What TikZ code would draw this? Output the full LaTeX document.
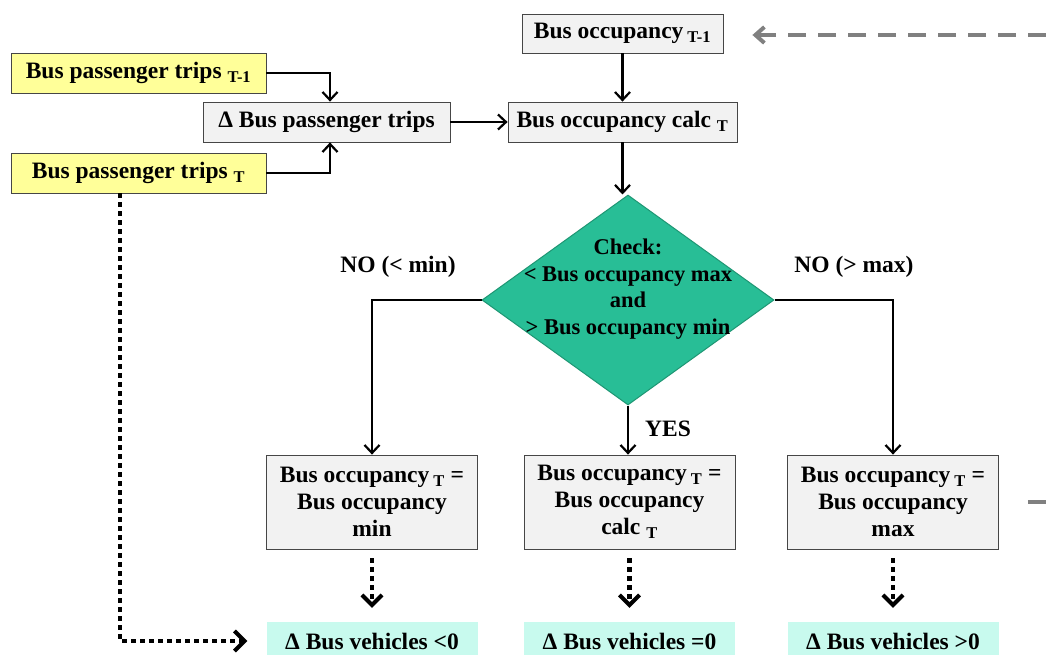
\documentclass[tikz,border=0pt]{standalone}
\usepackage{fontspec}
\setmainfont{Liberation Serif}
\usetikzlibrary{shapes.geometric,arrows.meta}
\definecolor{boxfill}{RGB}{242,242,242}
\definecolor{boxline}{RGB}{70,70,70}
\definecolor{inputfill}{RGB}{255,255,153}
\definecolor{checkfill}{RGB}{40,190,150}
\definecolor{checkline}{RGB}{30,150,115}
\definecolor{resultfill}{RGB}{200,250,238}
\definecolor{linkgray}{RGB}{128,128,128}

\begin{document}
\begin{tikzpicture}[x=1bp,y=-1bp,
  every node/.style={font=\fontsize{23.5bp}{27bp}\selectfont\bfseries, inner sep=0pt},
  calcbox/.style={draw=boxline, line width=0.8bp, fill=boxfill},
  inputbox/.style={draw=boxline, line width=0.8bp, fill=inputfill},
  resultbox/.style={fill=resultfill, minimum width=211bp, minimum height=38bp},
  setbox/.style={calcbox, minimum width=211bp, minimum height=94bp, align=center},
  decision/.style={diamond, draw=checkline, line width=1bp, fill=checkfill,
    minimum width=292bp, minimum height=210bp},
  flow/.style={line width=2.2bp, -{Straight Barb[length=8bp,width=15bp,line width=2.2bp]}},
  dotflow/.style={line width=4.5bp, dash pattern=on 4.5bp off 4.5bp,
    -{Straight Barb[length=10bp,width=20bp,line width=4bp]}},
  feedback/.style={linkgray, line width=4.5bp, dash pattern=on 18bp off 12bp,
    -{Straight Barb[length=9bp,width=16bp,line width=4bp]}},
  feedline/.style={linkgray, line width=4.5bp, dash pattern=on 18bp off 12bp},
]
\useasboundingbox (0,0) rectangle (1046,655);
\clip (0,0) rectangle (1046,655);

% inputs
\node[inputbox, minimum width=255bp, minimum height=40bp] (ptm1) at (138.5,73)
  {Bus passenger trips \textsubscript{T-1}};
\node[inputbox, minimum width=255bp, minimum height=40bp] (pt) at (138.5,173)
  {Bus passenger trips \textsubscript{T}};
\node[calcbox, minimum width=247bp, minimum height=40bp] (dpt) at (326.5,122)
  {Δ Bus passenger trips};

% occupancy
\node[calcbox, minimum width=201bp, minimum height=39bp] (occ1) at (622.5,33.5)
  {Bus occupancy\,\textsubscript{T-1}};
\node[calcbox, minimum width=229bp, minimum height=40bp] (calc) at (622.5,122)
  {Bus occupancy calc \textsubscript{T}};

% check
\node[decision] (dia) at (628,300) {};
\node[align=center, font=\fontsize{22.5bp}{26.5bp}\selectfont\bfseries] (diatext)
  at ([yshift=11bp]dia.center)
  {Check:\\< Bus occupancy max\\and\\> Bus occupancy min};

% outcomes
\node[setbox] (b1) at (372,502) {Bus occupancy\,\textsubscript{T} =\\Bus occupancy\\min};
\node[setbox] (b2) at (629.5,502) {Bus occupancy\,\textsubscript{T} =\\Bus occupancy\\calc \textsubscript{T}};
\node[setbox] (b3) at (893,502) {Bus occupancy\,\textsubscript{T} =\\Bus occupancy\\max};

\node[resultbox] (v1) at (372,641) {Δ Bus vehicles <0};
\node[resultbox] (v2) at (629.5,641) {Δ Bus vehicles =0};
\node[resultbox] (v3) at (893,641) {Δ Bus vehicles >0};

% branch labels
\node (nomin) at (398,267) {NO (< min)};
\node (nomax) at (854,267) {NO (> max)};
\node (yes) at (668,429) {YES};

% connectors
\draw[flow] (ptm1.east) -| ([xshift=3.5bp]dpt.north);
\draw[flow] (pt.east) -| ([xshift=3.5bp]dpt.south);
\draw[flow] (dpt.east) -- (calc.west);
\draw[flow] (occ1.south) -- (calc.north);
\draw[flow] (calc.south) -- (calc.south |- dia.north);
\draw[flow] (dia.west) -| (b1.north);
\draw[flow] (dia.east) -| (b3.north);
\draw[flow] (dia.south) -- (dia.south |- b2.north);

\draw[dotflow, shorten <=9bp, shorten >=14bp] (b1.south) -- (v1.north);
\draw[dotflow, shorten <=9bp, shorten >=14bp] (b2.south) -- (v2.north);
\draw[dotflow, shorten <=9bp, shorten >=14bp] (b3.south) -- (v3.north);

\coordinate (bend) at (120,641);
\draw[dotflow, shorten >=19bp] (pt.south -| bend) -- (bend) -- (v1.west);

% links to neighbouring stages
\coordinate (feedin) at (1046,35);
\coordinate (feedout) at (1046,502);
\draw[feedback, shorten >=29bp] (feedin) -- (feedin -| occ1.east);
\draw[feedline, shorten <=29bp] (b3.east) -- (feedout);
\end{tikzpicture}
\end{document}
